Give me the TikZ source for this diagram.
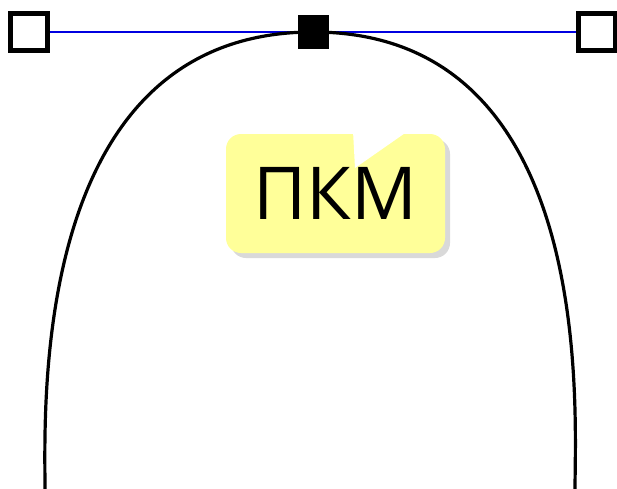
\documentclass[tikz,border=0pt]{standalone}
\usepackage{fontspec}
\setmainfont{Open Sans}
\usepackage{tikz}
\usetikzlibrary{shadows}
\definecolor{hintyellow}{HTML}{FFFF99}
\definecolor{handleblue}{HTML}{0000E0}
\tikzset{
  handle/.style={draw=black,line width=5pt,fill=white,minimum size=37pt,inner sep=0pt},
  anchorpt/.style={fill=black,minimum width=31pt,minimum height=34pt,inner sep=0pt},
  hint/.style={fill=hintyellow,rounded corners=15pt,minimum width=219pt,minimum height=119pt,inner sep=0pt,
    font=\fontsize{73}{73}\selectfont,drop shadow={opacity=0.3,shadow xshift=5pt,shadow yshift=-5pt}},
  hline/.style={draw=handleblue,line width=1.5pt},
  curve/.style={draw=black,line width=3.2pt},
}

\begin{document}
\begin{tikzpicture}[x=1pt,y=-1pt]
  \useasboundingbox (0,0) rectangle (617,488);
  \coordinate (bl) at (45,490);
  \coordinate (br) at (575,490);
  \node[handle,draw=none,fill=none](hl) at (29,32){};
  \node[handle,draw=none,fill=none](hr) at (597,32){};
  \node[anchorpt,fill=none](top) at (313,32){};
  % handle line and curve
  \draw[hline] (hl.center) -- (hr.center);
  \draw[curve] (bl) .. controls (45,410) and (hl.center) .. (top.center)
    .. controls (hr.center) and (575,410) .. (br);
  % points
  \node[handle] at (hl){};
  \node[handle] at (hr){};
  \node[anchorpt] at (top){};
  % hint
  \node[hint](pkm) at (335.5,193.5){ПКМ};
  \fill[white] (353,131) -- (355,168) -- (408,131) -- cycle;
\end{tikzpicture}
\end{document}
